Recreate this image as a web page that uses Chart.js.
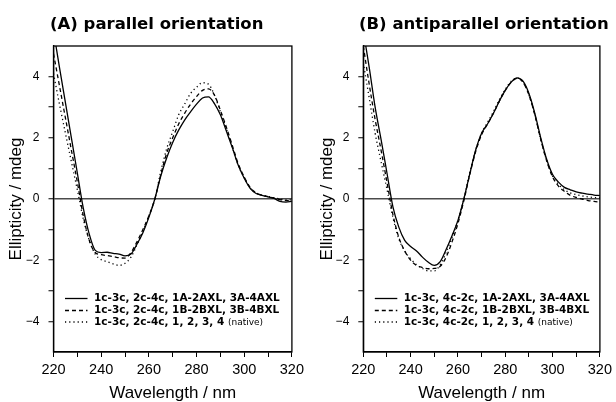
<!DOCTYPE html>
<html><head><meta charset="utf-8">
<script src="https://cdn.jsdelivr.net/npm/chart.js@4.4.1/dist/chart.umd.min.js"></script>
<style>
html,body{margin:0;padding:0;background:#fff;}
#wrap{position:relative;width:616px;height:402px;overflow:hidden;background:#fff;}
canvas{position:absolute;top:0;}
</style></head><body>
<div id="wrap">
<canvas id="cA" width="308" height="402" style="left:0"></canvas>
<canvas id="cB" width="308" height="402" style="left:308px"></canvas>
</div>
<script>
const wavelengths = [220,222.5,225,227.5,230,232.5,235,237.5,240,242.5,245,247.5,250,252.5,255,257.5,260,262.5,265,267.5,270,272.5,275,277.5,280,282.5,285,287.5,290,292.5,295,297.5,300,302.5,305,307.5,310,312.5,315,317.5,320];

const panelA_AXL = [5.5,4.3,3.15,2.0,0.85,-0.3,-1.15,-1.68,-1.75,-1.74,-1.78,-1.8,-1.86,-1.8,-1.48,-1.1,-0.6,0.0,0.75,1.35,1.85,2.25,2.58,2.85,3.1,3.3,3.34,3.12,2.75,2.22,1.68,1.1,0.68,0.35,0.18,0.12,0.07,0.02,-0.08,-0.1,-0.08];
const panelA_BXL = [4.75,3.7,2.65,1.6,0.55,-0.55,-1.35,-1.75,-1.82,-1.85,-1.88,-1.92,-1.93,-1.75,-1.4,-1.0,-0.55,0.0,0.8,1.5,2.0,2.45,2.8,3.1,3.35,3.55,3.6,3.4,2.9,2.35,1.75,1.15,0.72,0.38,0.2,0.12,0.08,0.03,-0.02,-0.05,-0.05];
const panelA_native = [4.1,3.1,2.15,1.22,0.3,-0.65,-1.35,-1.8,-1.98,-2.05,-2.12,-2.17,-2.1,-1.9,-1.5,-1.05,-0.55,0.0,0.9,1.65,2.2,2.75,3.1,3.45,3.65,3.8,3.75,3.4,2.85,2.3,1.7,1.1,0.7,0.36,0.2,0.12,0.08,0.04,0.0,-0.03,-0.03];

const panelB_AXL = [5.5,4.3,3.0,1.95,0.85,-0.25,-0.92,-1.35,-1.55,-1.7,-1.9,-2.07,-2.17,-2.05,-1.65,-1.2,-0.7,0.0,0.82,1.6,2.15,2.45,2.8,3.2,3.55,3.82,3.96,3.85,3.45,2.8,2.0,1.3,0.8,0.55,0.38,0.3,0.23,0.19,0.16,0.13,0.11];
const panelB_BXL = [5.0,3.75,2.6,1.6,0.55,-0.5,-1.25,-1.7,-2.0,-2.17,-2.24,-2.28,-2.27,-2.2,-1.9,-1.4,-0.8,-0.05,0.8,1.55,2.1,2.45,2.8,3.2,3.55,3.82,3.94,3.82,3.4,2.75,1.95,1.25,0.72,0.42,0.25,0.12,0.05,0.0,-0.05,-0.08,-0.1];
const panelB_native = [4.45,3.3,2.15,1.22,0.32,-0.6,-1.3,-1.7,-1.95,-2.15,-2.27,-2.35,-2.35,-2.15,-1.75,-1.25,-0.7,0.0,0.85,1.6,2.15,2.5,2.85,3.25,3.58,3.85,3.95,3.82,3.4,2.75,1.95,1.25,0.75,0.48,0.3,0.2,0.14,0.1,0.07,0.05,0.04];

const titleA = "(A) parallel orientation";
const titleB = "(B) antiparallel orientation";
const legendA = ["1c-3c, 2c-4c, 1A-2AXL, 3A-4AXL","1c-3c, 2c-4c, 1B-2BXL, 3B-4BXL","1c-3c, 2c-4c, 1, 2, 3, 4 (native)"];
const legendB = ["1c-3c, 4c-2c, 1A-2AXL, 3A-4AXL","1c-3c, 4c-2c, 1B-2BXL, 3B-4BXL","1c-3c, 4c-2c, 1, 2, 3, 4 (native)"];
const xTickLabels = [220,240,260,280,300,320];
const yTickLabels = [-4,-2,0,2,4];
const xAxisTitle = "Wavelength / nm";
const yAxisTitle = "Ellipticity / mdeg";

const SANS = "'Liberation Sans', Arial, sans-serif";
const BOLDF = "'DejaVu Sans', sans-serif";

const decor = {
  id: 'panelDecor',
  afterDraw(chart, args, opts) {
    const ctx = chart.ctx, a = chart.chartArea;
    ctx.save();
    ctx.strokeStyle = '#000'; ctx.lineWidth = 1.3;
    ctx.strokeRect(a.left, a.top, a.right - a.left, a.bottom - a.top);
    ctx.fillStyle = '#000';
    ctx.font = "bold 16.5px " + BOLDF;
    ctx.textBaseline = 'middle'; ctx.textAlign = 'left';
    ctx.fillText(opts.title, opts.titleX, 25);
    const rows = [298.5, 310.5, 322];
    chart.data.datasets.forEach((ds, i) => {
      const y = rows[i];
      ctx.beginPath();
      ctx.setLineDash(ds.borderDash || []);
      ctx.lineWidth = ds.borderWidth;
      ctx.strokeStyle = ds.borderColor;
      ctx.moveTo(a.left + 11.5, y); ctx.lineTo(a.left + 34, y);
      ctx.stroke();
      ctx.setLineDash([]);
      let txt = ds.label, extra = '';
      const k = txt.indexOf(' (');
      if (k >= 0) { extra = txt.slice(k + 1); txt = txt.slice(0, k); }
      ctx.font = "bold 10.5px " + BOLDF;
      ctx.fillText(txt, a.left + 40.5, y);
      if (extra) {
        const w = ctx.measureText(txt + ' ').width;
        ctx.font = "9px " + BOLDF;
        ctx.fillText(extra, a.left + 40.5 + w, y + 0.5);
      }
    });
    ctx.restore();
  }
};

function fmtY(v) { return v < 0 ? '\u2212' + (-v) : String(v); }

function makeChart(id, title, titleX, labels, series, geom) {
  const styles = [
    {dash: [], w: 1.3},
    {dash: [4, 3], w: 1.3},
    {dash: [1.2, 3], w: 1.3}
  ];
  return new Chart(document.getElementById(id), {
    type: 'line',
    data: {
      datasets: series.map((s, i) => ({
        label: labels[i],
        data: wavelengths.map((w, j) => ({x: w, y: s[j]})),
        borderColor: '#000',
        borderWidth: styles[i].w,
        borderDash: styles[i].dash,
        pointRadius: 0,
        fill: false,
        cubicInterpolationMode: 'monotone'
      }))
    },
    options: {
      responsive: false,
      animation: false,
      devicePixelRatio: 1,
      layout: {padding: {left: 0, right: geom.right, top: 46, bottom: 0}},
      plugins: {
        legend: {display: false},
        tooltip: {enabled: false},
        title: {display: false},
        panelDecor: {title: title, titleX: titleX}
      },
      scales: {
        x: {
          type: 'linear', min: 220, max: 320,
          afterFit(s) { s.height = 50; },
          ticks: {
            stepSize: 10, autoSkip: false, maxRotation: 0, padding: 4, color: '#000',
            font: {family: SANS, size: 14.5},
            callback: v => xTickLabels.includes(v) ? String(v) : ''
          },
          grid: {drawOnChartArea: false, drawTicks: true, tickLength: 5, tickColor: '#000', tickWidth: 1},
          border: {display: true, color: '#000', width: 1.3},
          title: {display: true, text: xAxisTitle, color: '#000',
                  font: {family: SANS, size: 17, lineHeight: 1}, padding: {top: 0, bottom: 0}}
        },
        y: {
          type: 'linear', min: -5, max: 5,
          afterFit(s) { s.width = geom.left; },
          ticks: {
            stepSize: 1, autoSkip: false, padding: 9, color: '#000',
            font: {family: SANS, size: 12},
            callback: v => yTickLabels.includes(v) ? fmtY(v) : ''
          },
          grid: {
            drawOnChartArea: true, drawTicks: true, tickLength: 5,
            color: c => (c.tick && c.tick.value === 0) ? '#4a4a4a' : 'rgba(0,0,0,0)',
            lineWidth: 1.5,
            tickColor: c => (c.tick && Math.abs(c.tick.value) === 5) ? 'rgba(0,0,0,0)' : '#000',
            tickWidth: 1
          },
          border: {display: true, color: '#000', width: 1.3},
          title: {display: true, text: yAxisTitle, color: '#000',
                  font: {family: SANS, size: 17, lineHeight: 1}, padding: {top: geom.yTitlePad, bottom: 0}}
        }
      }
    },
    plugins: [decor]
  });
}

makeChart('cA', titleA, 50, legendA, [panelA_AXL, panelA_BXL, panelA_native],
          {left: 53.5, right: 15, yTitlePad: 7.5});
makeChart('cB', titleB, 51, legendB, [panelB_AXL, panelB_BXL, panelB_native],
          {left: 55.3, right: 13, yTitlePad: 11});
</script>
</body></html>
